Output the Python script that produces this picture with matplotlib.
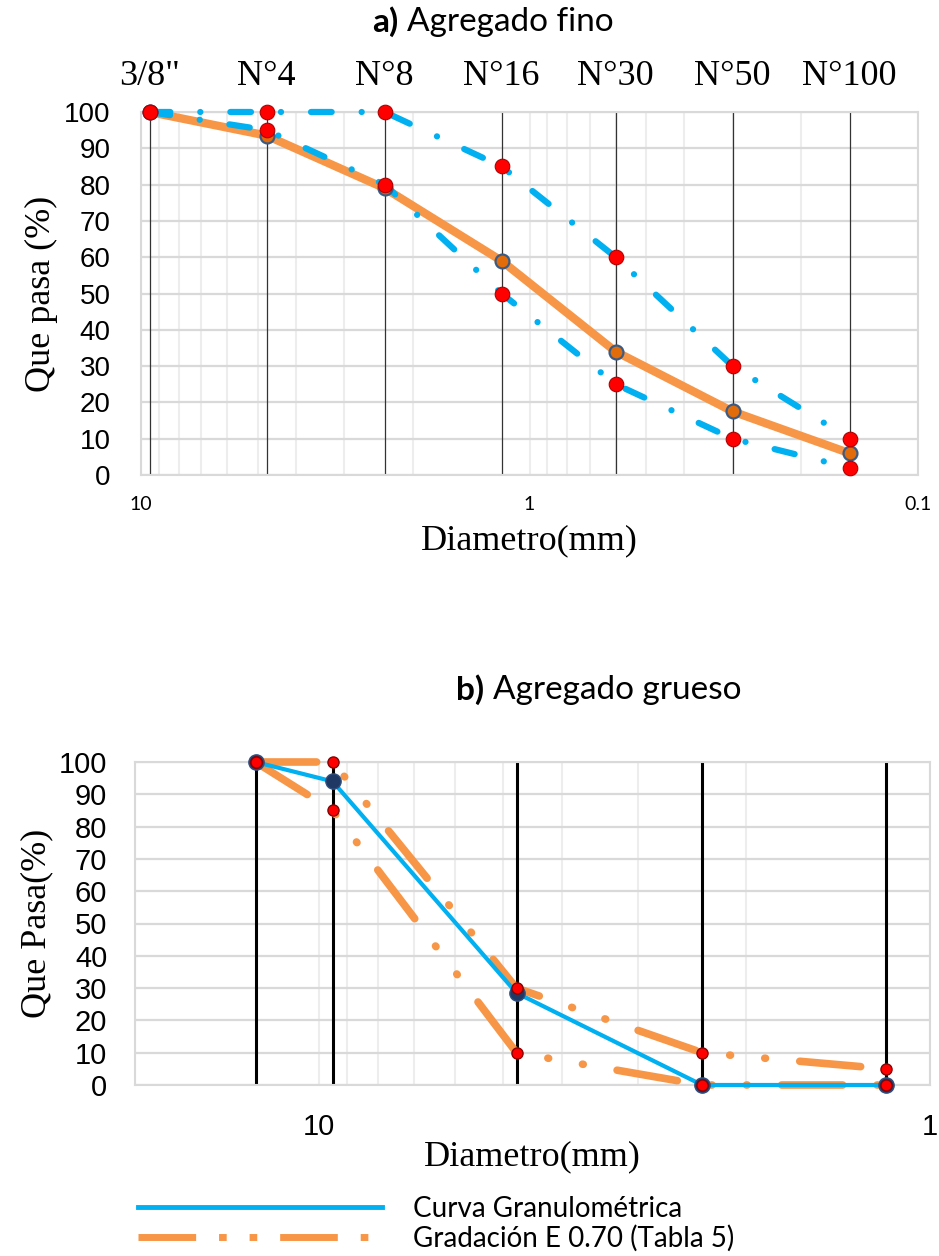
import matplotlib
matplotlib.use("Agg")
import matplotlib.pyplot as plt
from matplotlib.ticker import LogLocator, NullLocator, NullFormatter
from matplotlib.lines import Line2D

# ---- datos: agregado fino ----
fino_tamiz = ['3/8"', "N°4", "N°8", "N°16", "N°30", "N°50", "N°100"]
fino_diam = [9.5, 4.75, 2.36, 1.18, 0.6, 0.3, 0.15]
fino_curva = [100, 93.5, 79, 59, 34, 17.5, 6]
fino_lim_sup = [100, 100, 100, 85, 60, 30, 10]
fino_lim_inf = [100, 95, 80, 50, 25, 10, 2]

# ---- datos: agregado grueso ----
grueso_diam = [12.7, 9.5, 4.75, 2.36, 1.18]
grueso_curva = [100, 94, 28.5, 0, 0]
grueso_lim_sup = [100, 100, 30, 10, 5]
grueso_lim_inf = [100, 85, 10, 0, 0]

y_ticks = list(range(0, 101, 10))

AZUL = "#00B0F0"
NARANJA = "#F79646"
ROJO = "#FF0000"
GRID = "#D9D9D9"
GRID_MENOR = "#EDEDED"

SERIF = "Liberation Serif"
SANS = "Liberation Sans"
TITULO = "Lato"

W, H = 939, 1256
fig = plt.figure(figsize=(W / 100, H / 100), dpi=100)


def px_axes(left, right, top, bottom):
    return fig.add_axes([left / W, 1 - bottom / H, (right - left) / W, (bottom - top) / H])


def estilo_base(ax, xlim):
    ax.set_xscale("log")
    ax.set_xlim(*xlim)
    ax.set_ylim(0, 100)
    ax.set_yticks(y_ticks)
    ax.xaxis.set_minor_locator(LogLocator(base=10, subs=range(2, 10)))
    ax.xaxis.set_minor_formatter(NullFormatter())
    ax.grid(True, axis="y", color=GRID, lw=1.6, zorder=0)
    ax.grid(True, axis="x", which="both", color=GRID_MENOR, lw=1.5, zorder=0)
    for s in ax.spines.values():
        s.set_color(GRID)
        s.set_linewidth(1.5)
    ax.tick_params(which="both", length=0)
    for t in ax.get_yticklabels():
        t.set_fontfamily(SANS)
    ax.set_axisbelow(True)


def titulo(x_corte, y, letra, texto):
    fig.text(x_corte / W, 1 - y / H, letra, ha="right", va="center",
             fontsize=24, fontweight="bold", family=TITULO)
    fig.text((x_corte + 9) / W, 1 - y / H, texto, ha="left", va="center",
             fontsize=24, family=TITULO)


# ================= a) Agregado fino =================
ax1 = px_axes(141, 918, 112, 475)
estilo_base(ax1, (10, 0.1))
ax1.set_xticks([10, 1, 0.1], labels=["10", "1", "0.1"])
ax1.tick_params(axis="x", labelsize=14, pad=15)
ax1.tick_params(axis="y", labelsize=20, pad=22)
for t in ax1.get_xticklabels():
    t.set_fontfamily(TITULO)

ax1.vlines(fino_diam, 0, 100, colors="#333333", lw=0.9, zorder=2)

ax1.plot(fino_diam, fino_curva, color=NARANJA, lw=6, solid_joinstyle="round",
         zorder=3, clip_on=False)
for lim in (fino_lim_sup, fino_lim_inf):
    ax1.plot(fino_diam, lim, color=AZUL, lw=4.5, dash_capstyle="round",
             dashes=(3.3, 4.8, 0.01, 4.8), zorder=4, clip_on=False)
ax1.plot(fino_diam, fino_curva, ls="none", marker="o", ms=10, mfc="#E36C0A",
         mec="#3B5B83", mew=1.6, zorder=5, clip_on=False)
for lim in (fino_lim_sup, fino_lim_inf):
    ax1.plot(fino_diam, lim, ls="none", marker="o", ms=10.5, mfc=ROJO,
             mec="#B00000", mew=0.8, zorder=6, clip_on=False)

sec = ax1.secondary_xaxis("top")
sec.set_xticks(fino_diam, labels=fino_tamiz)
sec.xaxis.set_minor_locator(NullLocator())
sec.tick_params(length=0, pad=14, labelsize=26)
for t in sec.get_xticklabels():
    t.set_fontfamily(SERIF)
sec.spines["top"].set_visible(False)

ax1.set_xlabel("Diametro(mm)", family=SERIF, fontsize=26, labelpad=8)
ax1.set_ylabel("Que pasa (%)", family=SERIF, fontsize=26, labelpad=4)

titulo(398, 22, "a)", "Agregado fino")

# ================= b) Agregado grueso =================
ax2 = px_axes(135, 930, 762, 1085)
estilo_base(ax2, (20, 1))
ax2.set_xticks([10, 1], labels=["10", "1"])
ax2.tick_params(axis="x", labelsize=21, pad=20)
ax2.tick_params(axis="y", labelsize=21, pad=20)
for t in ax2.get_xticklabels():
    t.set_fontfamily(SANS)

ax2.vlines(grueso_diam, 0, 100, colors="black", lw=2.2, zorder=2)

patron = (8.0, 4.5, 0.1, 4.5, 0.1, 4.5)
for lim in (grueso_lim_sup, grueso_lim_inf):
    ax2.plot(grueso_diam, lim, color=NARANJA, lw=5.5, dash_capstyle="round",
             dashes=patron, zorder=3, clip_on=False)
ax2.plot(grueso_diam, grueso_curva, color=AZUL, lw=3, zorder=4, clip_on=False)
ax2.plot(grueso_diam, grueso_curva, ls="none", marker="o", ms=11,
         mfc="#203864", mec="#2F4F7F", mew=1, zorder=5, clip_on=False)
for lim in (grueso_lim_sup, grueso_lim_inf):
    ax2.plot(grueso_diam, lim, ls="none", marker="o", ms=8, mfc=ROJO,
             mec="#8B0000", mew=1, zorder=6, clip_on=False)

ax2.set_xlabel("Diametro(mm)", family=SERIF, fontsize=26, labelpad=0)
ax2.set_ylabel("Que Pasa(%)", family=SERIF, fontsize=26, labelpad=4)

titulo(484, 690, "b)", "Agregado grueso")

# leyenda
h_curva = Line2D([], [], color=AZUL, lw=3.5)
h_grad = Line2D([], [], color=NARANJA, lw=5, dashes=(8.3, 3.3, 1.1, 3.3, 1.1, 3.3),
                dash_capstyle="butt")
fig.legend(handles=[h_curva, h_grad],
           labels=["Curva Granulométrica", "Gradación E 0.70 (Tabla 5)"],
           loc="upper left", bbox_to_anchor=(138 / W, 1 - 1196 / H),
           frameon=False, handlelength=8.8, handletextpad=1.1,
           labelspacing=0.1, borderpad=0, borderaxespad=0,
           prop={"family": TITULO, "size": 20})

fig.savefig("out.png", dpi=100)
